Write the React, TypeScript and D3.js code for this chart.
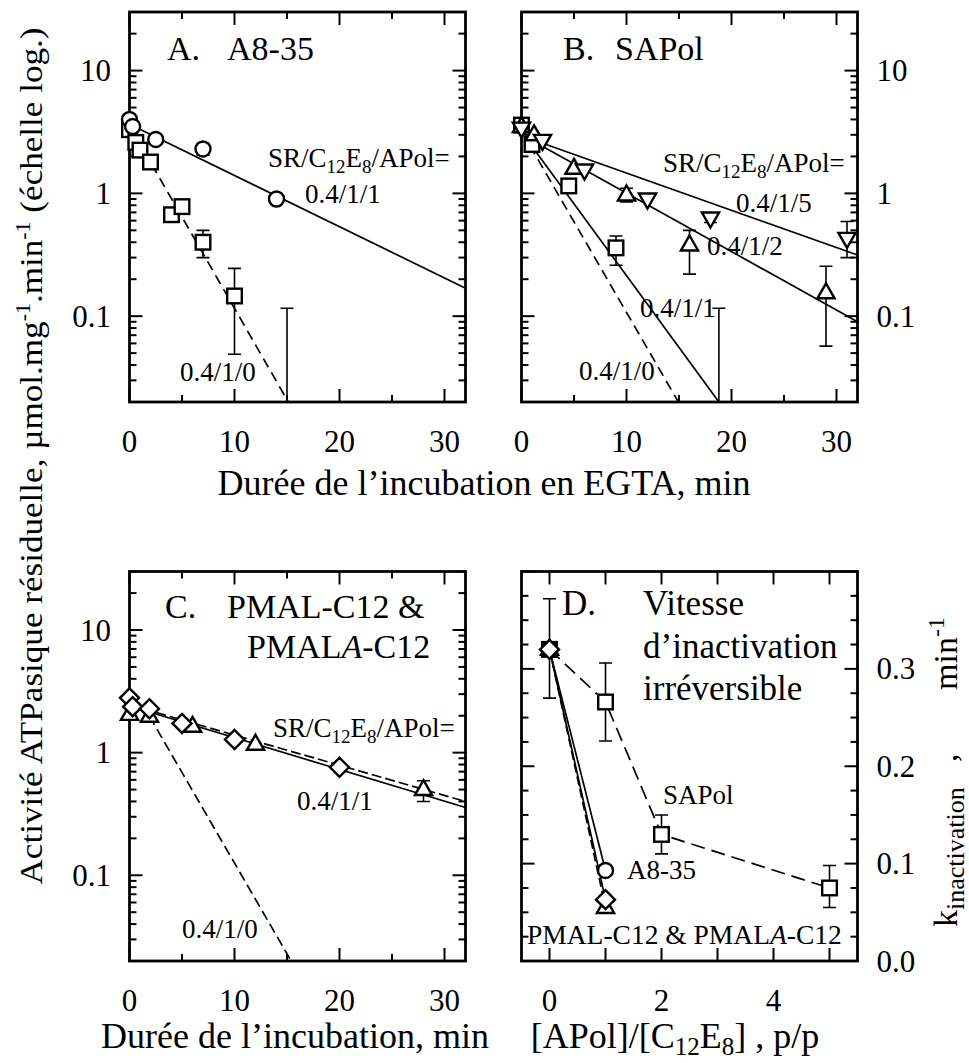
import React from "react";
import * as d3 from "d3";

const FONT = "Liberation Serif, Tinos, Times New Roman, serif";

// ---------------- Data ----------------
type Pt = { t: number; v: number; lo?: number; hi?: number };
type Shape = "circle" | "square" | "tri" | "itri" | "diamond";

// Panel A : A8-35
const aCircles: Pt[] = [
  { t: 0, v: 4.0 },
  { t: 0.3, v: 3.5 },
  { t: 2.5, v: 2.75 },
  { t: 7, v: 2.3, lo: 2.05, hi: 2.55 },
  { t: 14, v: 0.9, lo: 0.82, hi: 0.98 },
];
const aSquares: Pt[] = [
  { t: 0, v: 3.3 },
  { t: 0.6, v: 2.6 },
  { t: 1, v: 2.25 },
  { t: 2, v: 1.8 },
  { t: 4, v: 0.67 },
  { t: 5, v: 0.78 },
  { t: 7, v: 0.4, lo: 0.3, hi: 0.5 },
  { t: 10, v: 0.146, lo: 0.049, hi: 0.245 },
  { t: 15, v: 0.005, lo: 0.001, hi: 0.116 },
];
const aFit111: [number, number][] = [[0.3, 3.55], [32, 0.169]];
const aFit110: [number, number][] = [[0.6, 2.9], [15.2, 0.0195]];

// Panel B : SAPol
const bSquares: Pt[] = [
  { t: 0, v: 3.6 },
  { t: 1, v: 2.5 },
  { t: 4.5, v: 1.15 },
  { t: 9, v: 0.36, lo: 0.26, hi: 0.45 },
  { t: 18.8, v: 0.005, lo: 0.001, hi: 0.116 },
];
const bTriangles: Pt[] = [
  { t: 0, v: 3.5 },
  { t: 1.2, v: 3.0 },
  { t: 5, v: 1.6 },
  { t: 10, v: 0.97, lo: 0.85, hi: 1.1 },
  { t: 16, v: 0.38, lo: 0.22, hi: 0.5 },
  { t: 29, v: 0.155, lo: 0.057, hi: 0.255 },
];
const bInvTriangles: Pt[] = [
  { t: 0, v: 3.4 },
  { t: 2, v: 2.7 },
  { t: 6, v: 1.55 },
  { t: 12, v: 0.9 },
  { t: 18, v: 0.63, lo: 0.58, hi: 0.68 },
  { t: 31, v: 0.43, lo: 0.3, hi: 0.59 },
];
const bFit110: [number, number][] = [[0.8, 2.45], [15, 0.0196]];
const bFit111: [number, number][] = [[0.8, 2.55], [18.8, 0.02]];
const bFit112: [number, number][] = [[1, 2.7], [32, 0.09]];
const bFit115: [number, number][] = [[1, 2.75], [32, 0.315]];

// Panel C : PMAL-C12 & PMALA-C12
const cDiamonds: Pt[] = [
  { t: 0, v: 2.8 },
  { t: 0.3, v: 2.37 },
  { t: 1.9, v: 2.28 },
  { t: 5, v: 1.73 },
  { t: 10, v: 1.28 },
  { t: 20, v: 0.76 },
];
const cTriangles: Pt[] = [
  { t: 0, v: 2.05 },
  { t: 1.9, v: 1.98 },
  { t: 6, v: 1.64 },
  { t: 12, v: 1.17 },
  { t: 28, v: 0.5, lo: 0.4, hi: 0.59 },
];
const cFitSolid: [number, number][] = [[0, 2.4], [32, 0.357]];
const cFitDash: [number, number][] = [[0, 2.45], [32, 0.4]];
const cFit110: [number, number][] = [[1.9, 1.98], [15.4, 0.02]];

// Panel D : inactivation rate vs [APol]/[C12E8]
const dSAPol: Pt[] = [
  { t: 0, v: 0.32, lo: 0.27, hi: 0.372 },
  { t: 1, v: 0.266, lo: 0.226, hi: 0.306 },
  { t: 2, v: 0.13, lo: 0.11, hi: 0.15 },
  { t: 5, v: 0.075, lo: 0.055, hi: 0.098 },
];
const dA835: Pt[] = [{ t: 0, v: 0.32 }, { t: 1, v: 0.093 }];
const dPMAL: Pt[] = [{ t: 0, v: 0.32 }, { t: 1, v: 0.063 }];
const dPMALA: Pt[] = [{ t: 0, v: 0.32 }, { t: 1, v: 0.055 }];

// Axis ticks
const timeMajor = [0, 10, 20, 30];
const timeMinor = [5, 15, 25];
const ratioTicks = [0, 1, 2, 3, 4, 5];
const ratioLabels = [0, 2, 4];
const kMajor = [0, 0.1, 0.2, 0.3, 0.4];
const kMinor = [0.025, 0.05, 0.075, 0.125, 0.15, 0.175, 0.225, 0.25, 0.275, 0.325, 0.35, 0.375];
const logLabels = [0.1, 1, 10];

// ---------------- Layout ----------------
type Box = { x0: number; x1: number; y0: number; y1: number };
const boxA: Box = { x0: 129.5, x1: 465.5, y0: 12, y1: 402 };
const boxB: Box = { x0: 521.5, x1: 857.5, y0: 12, y1: 402 };
const boxC: Box = { x0: 129.5, x1: 465.5, y0: 571.5, y1: 961 };
const boxD: Box = { x0: 521.5, x1: 857.5, y0: 571.5, y1: 961 };

const TICK_FS = 31;
const ANNO_FS = 27;
const TITLE_FS = 34;
const AXIS_FS = 36;

function Marker({ shape, x, y }: { shape: Shape; x: number; y: number }) {
  const common = { fill: "white", stroke: "black", strokeWidth: 2.4 };
  if (shape === "circle") return <circle cx={x} cy={y} r={7.5} {...common} />;
  if (shape === "square") return <rect x={x - 7.3} y={y - 7.3} width={14.6} height={14.6} {...common} />;
  if (shape === "tri")
    return <polygon points={`${x},${y - 9.5} ${x + 8.6},${y + 5.5} ${x - 8.6},${y + 5.5}`} {...common} />;
  if (shape === "itri")
    return <polygon points={`${x},${y + 9.5} ${x + 8.6},${y - 5.5} ${x - 8.6},${y - 5.5}`} {...common} />;
  return <polygon points={`${x},${y - 9.5} ${x + 9.5},${y} ${x},${y + 9.5} ${x - 9.5},${y}`} {...common} />;
}

function Frame({
  box,
  xs,
  ys,
  xTicks,
  yTicks,
}: {
  box: Box;
  xs: (v: number) => number;
  ys: (v: number) => number;
  xTicks: { v: number; major: boolean }[];
  yTicks: { v: number; major: boolean }[];
}) {
  const els: any[] = [];
  xTicks.forEach((t, i) => {
    const L = t.major ? 13 : 7;
    const X = xs(t.v);
    els.push(<line key={"xb" + i} x1={X} x2={X} y1={box.y1} y2={box.y1 - L} />);
    els.push(<line key={"xt" + i} x1={X} x2={X} y1={box.y0} y2={box.y0 + L} />);
  });
  yTicks.forEach((t, i) => {
    const L = t.major ? 13 : 7;
    const Y = ys(t.v);
    els.push(<line key={"yl" + i} x1={box.x0} x2={box.x0 + L} y1={Y} y2={Y} />);
    els.push(<line key={"yr" + i} x1={box.x1} x2={box.x1 - L} y1={Y} y2={Y} />);
  });
  return (
    <g>
      <g stroke="black" strokeWidth={2}>{els}</g>
      <rect
        x={box.x0}
        y={box.y0}
        width={box.x1 - box.x0}
        height={box.y1 - box.y0}
        fill="none"
        stroke="black"
        strokeWidth={2.8}
      />
    </g>
  );
}

function ErrorBars({ pts, xs, ys, clip }: { pts: Pt[]; xs: any; ys: any; clip: string }) {
  return (
    <g clipPath={`url(#${clip})`} stroke="black" strokeWidth={1.6}>
      {pts
        .filter((p) => p.lo !== undefined && p.hi !== undefined)
        .map((p, i) => {
          const X = xs(p.t);
          const yl = ys(p.lo as number);
          const yh = ys(p.hi as number);
          return (
            <g key={i}>
              <line x1={X} x2={X} y1={yl} y2={yh} />
              <line x1={X - 6.5} x2={X + 6.5} y1={yl} y2={yl} />
              <line x1={X - 6.5} x2={X + 6.5} y1={yh} y2={yh} />
            </g>
          );
        })}
    </g>
  );
}

function Markers({ pts, shape, xs, ys, min }: { pts: Pt[]; shape: Shape; xs: any; ys: any; min: number }) {
  return (
    <g>
      {pts
        .filter((p) => p.v >= min)
        .map((p, i) => (
          <Marker key={i} shape={shape} x={xs(p.t)} y={ys(p.v)} />
        ))}
    </g>
  );
}

function FitLine({
  pts,
  xs,
  ys,
  clip,
  dash,
}: {
  pts: [number, number][];
  xs: any;
  ys: any;
  clip: string;
  dash?: string;
}) {
  const gen = d3
    .line<[number, number]>()
    .x((d) => xs(d[0]))
    .y((d) => ys(d[1]));
  return (
    <path
      d={gen(pts) || ""}
      clipPath={`url(#${clip})`}
      fill="none"
      stroke="black"
      strokeWidth={1.7}
      strokeDasharray={dash}
    />
  );
}

function RatioAnno({ x, y }: { x: number; y: number }) {
  return (
    <text x={x} y={y} fontSize={ANNO_FS}>
      SR/C
      <tspan dy={6} fontSize={19}>12</tspan>
      <tspan dy={-6}>E</tspan>
      <tspan dy={6} fontSize={19}>8</tspan>
      <tspan dy={-6}>/APol=</tspan>
    </text>
  );
}

const LOG_DOMAIN: [number, number] = [0.02, 30];
const TIME_DOMAIN: [number, number] = [0, 32];

function makeLog(box: Box) {
  const xs = d3.scaleLinear().domain(TIME_DOMAIN).range([box.x0, box.x1]);
  const ys = d3.scaleLog().domain(LOG_DOMAIN).range([box.y1, box.y0]);
  const xTicks = [
    ...timeMajor.map((v) => ({ v, major: true })),
    ...timeMinor.map((v) => ({ v, major: false })),
  ];
  const yTicks = ys.ticks().map((v) => {
    const l = Math.log10(v);
    return { v, major: Math.abs(l - Math.round(l)) < 1e-9 };
  });
  return { xs, ys, xTicks, yTicks };
}

function TimeLabels({ box, xs }: { box: Box; xs: any }) {
  return (
    <g fontSize={TICK_FS} textAnchor="middle">
      {timeMajor.map((v) => (
        <text key={v} x={xs(v)} y={box.y1 + 50}>
          {v}
        </text>
      ))}
    </g>
  );
}

function LogLabels({ box, ys, side }: { box: Box; ys: any; side: "left" | "right" }) {
  return (
    <g fontSize={TICK_FS} textAnchor={side === "left" ? "end" : "start"} dominantBaseline="central">
      {logLabels.map((v) => (
        <text key={v} x={side === "left" ? box.x0 - 18.5 : box.x1 + 19} y={ys(v)}>
          {String(v)}
        </text>
      ))}
    </g>
  );
}

export default function App() {
  const A = makeLog(boxA);
  const B = makeLog(boxB);
  const C = makeLog(boxC);

  const dx = d3.scaleLinear().domain([-0.5, 5.5]).range([boxD.x0, boxD.x1]);
  const dy = d3.scaleLinear().domain([0, 0.4]).range([boxD.y1, boxD.y0]);
  const dXTicks = ratioTicks.map((v) => ({ v, major: true }));
  const dYTicks = [...kMajor.map((v) => ({ v, major: true })), ...kMinor.map((v) => ({ v, major: false }))];

  const fmt1 = d3.format(".1f");
  const clips = [
    ["clipA", boxA],
    ["clipB", boxB],
    ["clipC", boxC],
    ["clipD", boxD],
  ] as [string, Box][];

  return (
    <svg
      width={969}
      height={1063}
      style={{ position: "absolute", left: 0, top: 0, background: "white", fontFamily: FONT }}
    >
      <defs>
        {clips.map(([id, b]) => (
          <clipPath id={id} key={id}>
            <rect x={b.x0} y={b.y0} width={b.x1 - b.x0} height={b.y1 - b.y0} />
          </clipPath>
        ))}
      </defs>
      <rect width={969} height={1063} fill="white" />

      {/* ---------- Panel A ---------- */}
      <FitLine pts={aFit111} xs={A.xs} ys={A.ys} clip="clipA" />
      <FitLine pts={aFit110} xs={A.xs} ys={A.ys} clip="clipA" dash="10,6" />
      <ErrorBars pts={aSquares} xs={A.xs} ys={A.ys} clip="clipA" />
      <ErrorBars pts={aCircles} xs={A.xs} ys={A.ys} clip="clipA" />
      <Frame box={boxA} xs={A.xs} ys={A.ys} xTicks={A.xTicks} yTicks={A.yTicks} />
      <Markers pts={aSquares} shape="square" xs={A.xs} ys={A.ys} min={LOG_DOMAIN[0]} />
      <Markers pts={aCircles} shape="circle" xs={A.xs} ys={A.ys} min={LOG_DOMAIN[0]} />
      <TimeLabels box={boxA} xs={A.xs} />
      <LogLabels box={boxA} ys={A.ys} side="left" />
      <text x={167} y={60} fontSize={TITLE_FS}>A.</text>
      <text x={227} y={60} fontSize={TITLE_FS}>A8-35</text>
      <RatioAnno x={268} y={167} />
      <text x={305} y={203} fontSize={ANNO_FS}>0.4/1/1</text>
      <text x={180} y={381} fontSize={ANNO_FS}>0.4/1/0</text>

      {/* ---------- Panel B ---------- */}
      <FitLine pts={bFit110} xs={B.xs} ys={B.ys} clip="clipB" dash="10,6" />
      <FitLine pts={bFit111} xs={B.xs} ys={B.ys} clip="clipB" />
      <FitLine pts={bFit112} xs={B.xs} ys={B.ys} clip="clipB" />
      <FitLine pts={bFit115} xs={B.xs} ys={B.ys} clip="clipB" />
      <ErrorBars pts={bSquares} xs={B.xs} ys={B.ys} clip="clipB" />
      <ErrorBars pts={bTriangles} xs={B.xs} ys={B.ys} clip="clipB" />
      <ErrorBars pts={bInvTriangles} xs={B.xs} ys={B.ys} clip="clipB" />
      <Frame box={boxB} xs={B.xs} ys={B.ys} xTicks={B.xTicks} yTicks={B.yTicks} />
      <Markers pts={bSquares} shape="square" xs={B.xs} ys={B.ys} min={LOG_DOMAIN[0]} />
      <Markers pts={bTriangles} shape="tri" xs={B.xs} ys={B.ys} min={LOG_DOMAIN[0]} />
      <Markers pts={bInvTriangles} shape="itri" xs={B.xs} ys={B.ys} min={LOG_DOMAIN[0]} />
      <TimeLabels box={boxB} xs={B.xs} />
      <LogLabels box={boxB} ys={B.ys} side="right" />
      <text x={563} y={60} fontSize={TITLE_FS}>B.</text>
      <text x={615} y={60} fontSize={TITLE_FS}>SAPol</text>
      <RatioAnno x={663} y={172} />
      <text x={736} y={212} fontSize={ANNO_FS}>0.4/1/5</text>
      <text x={707} y={255} fontSize={ANNO_FS}>0.4/1/2</text>
      <text x={640} y={317} fontSize={ANNO_FS}>0.4/1/1</text>
      <text x={579} y={380} fontSize={ANNO_FS}>0.4/1/0</text>

      {/* top x-axis title */}
      <text x={484} y={495} fontSize={AXIS_FS} textAnchor="middle">
        Durée de l’incubation en EGTA, min
      </text>

      {/* ---------- Panel C ---------- */}
      <FitLine pts={cFitSolid} xs={C.xs} ys={C.ys} clip="clipC" />
      <FitLine pts={cFitDash} xs={C.xs} ys={C.ys} clip="clipC" dash="10,4" />
      <FitLine pts={cFit110} xs={C.xs} ys={C.ys} clip="clipC" dash="10,5" />
      <ErrorBars pts={cTriangles} xs={C.xs} ys={C.ys} clip="clipC" />
      <Frame box={boxC} xs={C.xs} ys={C.ys} xTicks={C.xTicks} yTicks={C.yTicks} />
      <Markers pts={cTriangles} shape="tri" xs={C.xs} ys={C.ys} min={LOG_DOMAIN[0]} />
      <Markers pts={cDiamonds} shape="diamond" xs={C.xs} ys={C.ys} min={LOG_DOMAIN[0]} />
      <TimeLabels box={boxC} xs={C.xs} />
      <LogLabels box={boxC} ys={C.ys} side="left" />
      <text x={165} y={618} fontSize={TITLE_FS}>C.</text>
      <text x={227} y={618} fontSize={TITLE_FS}>PMAL-C12 &amp;</text>
      <text x={247} y={658} fontSize={TITLE_FS}>
        PMAL<tspan fontStyle="italic">A</tspan>-C12
      </text>
      <RatioAnno x={273} y={737} />
      <text x={297} y={810} fontSize={ANNO_FS}>0.4/1/1</text>
      <text x={182} y={938} fontSize={ANNO_FS}>0.4/1/0</text>

      {/* ---------- Panel D ---------- */}
      <FitLine pts={dSAPol.map((p) => [p.t, p.v] as [number, number])} xs={dx} ys={dy} clip="clipD" dash="14,7" />
      <FitLine pts={dA835.map((p) => [p.t, p.v] as [number, number])} xs={dx} ys={dy} clip="clipD" />
      <FitLine pts={dPMAL.map((p) => [p.t, p.v] as [number, number])} xs={dx} ys={dy} clip="clipD" />
      <FitLine pts={dPMALA.map((p) => [p.t, p.v] as [number, number])} xs={dx} ys={dy} clip="clipD" dash="9,4" />
      <ErrorBars pts={dSAPol} xs={dx} ys={dy} clip="clipD" />
      <Frame box={boxD} xs={dx} ys={dy} xTicks={dXTicks} yTicks={dYTicks} />
      <Markers pts={dSAPol} shape="square" xs={dx} ys={dy} min={0} />
      <Markers pts={dA835} shape="circle" xs={dx} ys={dy} min={0} />
      <Markers pts={dPMALA} shape="tri" xs={dx} ys={dy} min={0} />
      <Markers pts={dPMAL} shape="diamond" xs={dx} ys={dy} min={0} />
      <g fontSize={TICK_FS} textAnchor="middle">
        {ratioLabels.map((v) => (
          <text key={v} x={dx(v)} y={boxD.y1 + 50}>
            {v}
          </text>
        ))}
      </g>
      <g fontSize={TICK_FS} dominantBaseline="central">
        {kMajor.slice(0, 4).map((v) => (
          <text key={v} x={boxD.x1 + 19} y={dy(v)}>
            {fmt1(v)}
          </text>
        ))}
      </g>
      <text x={562} y={615} fontSize={35}>D.</text>
      <text x={643} y={615} fontSize={35}>Vitesse</text>
      <text x={643} y={658} fontSize={35}>d’inactivation</text>
      <text x={643} y={700} fontSize={35}>irréversible</text>
      <text x={663} y={804} fontSize={ANNO_FS}>SAPol</text>
      <text x={627} y={879} fontSize={ANNO_FS}>A8-35</text>
      <text x={527} y={944} fontSize={27.5}>
        PMAL-C12 &amp; PMAL<tspan fontStyle="italic">A</tspan>-C12
      </text>

      {/* bottom x-axis titles */}
      <text x={295} y={1048} fontSize={AXIS_FS} textAnchor="middle">
        Durée de l’incubation, min
      </text>
      <text x={675} y={1048} fontSize={AXIS_FS} textAnchor="middle">
        [APol]/[C<tspan dy={7} fontSize={25}>12</tspan>
        <tspan dy={-7}>E</tspan>
        <tspan dy={7} fontSize={25}>8</tspan>
        <tspan dy={-7}>] , p/p</tspan>
      </text>

      {/* left y-axis title */}
      <text
        transform="translate(42,456) rotate(-90)"
        fontSize={32}
        textAnchor="middle"
        textLength={857}
        lengthAdjust="spacingAndGlyphs"
      >
        Activité ATPasique résiduelle, µmol.mg<tspan dy={-12} fontSize={20}>-1</tspan>
        <tspan dy={12}>.min</tspan>
        <tspan dy={-12} fontSize={20}>-1</tspan>
        <tspan dy={12}> (échelle log.)</tspan>
      </text>

      {/* right y-axis title (panel D) */}
      <g transform="translate(957,0) rotate(-90)">
        <text x={-927} y={0} fontSize={34}>
          k<tspan dy={7} fontSize={26}>inactivation</tspan>
        </text>
        <text x={-762} y={0} fontSize={34}>,</text>
        <text x={-690} y={0} fontSize={34}>
          min<tspan dy={-13} fontSize={24}>-1</tspan>
        </text>
      </g>
    </svg>
  );
}
